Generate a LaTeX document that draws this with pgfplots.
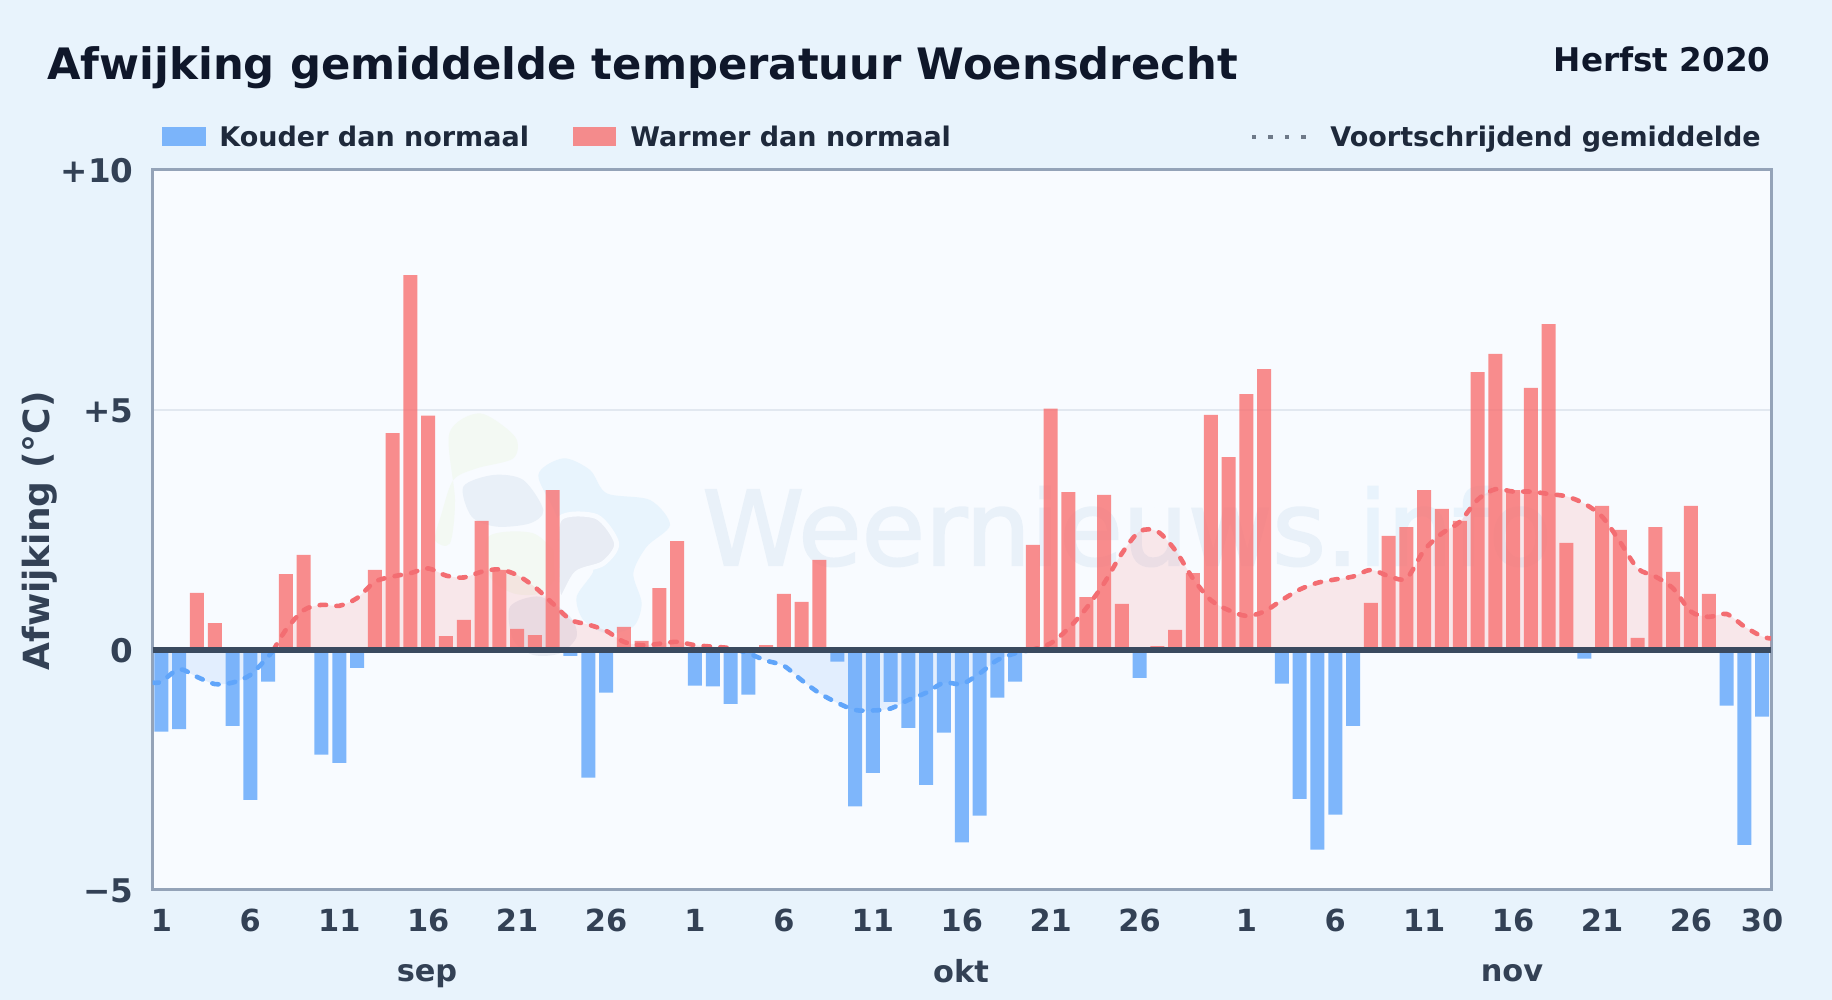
\documentclass[border=0pt]{standalone}
\usepackage{fontspec}
\setmainfont{DejaVu Sans}
\newfontfamily\markfont[FakeBold=2]{DejaVu Sans}
\usepackage{pgfplots}
\usepackage{pgfplotstable}
\pgfplotsset{compat=1.18}

\definecolor{pagebg}{HTML}{E8F3FC}
\definecolor{panel}{HTML}{F8FBFF}
\definecolor{frame}{HTML}{94A3B8}
\definecolor{gridc}{HTML}{E2E8F0}
\definecolor{zeroc}{HTML}{3A4A5F}
\definecolor{titlec}{HTML}{0F172A}
\definecolor{legendc}{HTML}{1E293B}
\definecolor{tickc}{HTML}{334155}
\definecolor{warm}{HTML}{F87171}
\definecolor{warmline}{HTML}{F36D72}
\definecolor{cold}{HTML}{60A5FA}
\definecolor{markA}{HTML}{E9F1F9}
\definecolor{markB}{HTML}{E8F3FC}
\definecolor{logoG}{HTML}{F3F9F3}
\definecolor{logoB}{HTML}{E8F4FD}
\definecolor{logoN}{HTML}{E9F0F8}
\definecolor{logoP}{HTML}{E8ECF4}

% 1 px of the reference = 0.5pt
\newcommand{\fs}[1]{\fontsize{#1}{#1}\selectfont\bfseries}

% daily deviation, index 0 = 1 sep
\pgfplotstableread{
x dev
0 -1.70
1 -1.65
2 1.19
3 0.56
4 -1.58
5 -3.12
6 -0.66
7 1.58
8 1.98
9 -2.18
10 -2.35
11 -0.37
12 1.67
13 4.52
14 7.81
15 4.88
16 0.29
17 0.63
18 2.69
19 1.67
20 0.44
21 0.31
22 3.33
23 -0.12
24 -2.66
25 -0.89
26 0.48
27 0.19
28 1.29
29 2.27
30 -0.74
31 -0.76
32 -1.12
33 -0.93
34 0.10
35 1.17
36 1.00
37 1.88
38 -0.24
39 -3.26
40 -2.56
41 -1.08
42 -1.62
43 -2.81
44 -1.72
45 -4.01
46 -3.45
47 -0.99
48 -0.66
49 2.19
50 5.03
51 3.29
52 1.10
53 3.23
54 0.96
55 -0.58
56 0.08
57 0.42
58 1.60
59 4.90
60 4.02
61 5.33
62 5.85
63 -0.70
64 -3.10
65 -4.16
66 -3.43
67 -1.58
68 0.98
69 2.38
70 2.56
71 3.33
72 2.94
73 2.69
74 5.79
75 6.17
76 3.33
77 5.46
78 6.79
79 2.23
80 -0.18
81 3.00
82 2.50
83 0.25
84 2.56
85 1.63
86 3.00
87 1.17
88 -1.16
89 -4.06
90 -1.39
}\devtable

% running mean, split where it crosses zero
\pgfplotstableread{
x ma
-0.5 -0.68
0 -0.66
1 -0.40
2 -0.56
3 -0.71
4 -0.68
5 -0.52
6 -0.14
6.3 0
}\colda
\pgfplotstableread{
x ma
6.3 0
7 0.42
8 0.83
9 0.94
10 0.92
11 1.08
12 1.42
13 1.53
14 1.60
15 1.70
16 1.55
17 1.51
18 1.63
19 1.68
20 1.56
21 1.31
22 0.97
23 0.63
24 0.53
25 0.40
26 0.17
27 0.10
28 0.13
29 0.17
30 0.10
31 0.07
32 0.04
32.4 0
}\warma
\pgfplotstableread{
x ma
32.4 0
33 -0.07
34 -0.22
35 -0.33
36 -0.63
37 -0.90
38 -1.10
39 -1.25
40 -1.26
41 -1.22
42 -1.04
43 -0.89
44 -0.68
45 -0.71
46 -0.49
47 -0.21
48 -0.07
48.9 0
}\coldb
\pgfplotstableread{
x ma
48.9 0
50 0.14
51 0.45
52 0.87
53 1.39
54 2.01
55 2.47
56 2.47
57 2.08
58 1.49
59 1.04
60 0.83
61 0.71
62 0.80
63 1.04
64 1.26
65 1.40
66 1.47
67 1.53
68 1.67
69 1.54
70 1.49
71 2.08
72 2.43
73 2.67
74 3.13
75 3.35
76 3.30
77 3.30
78 3.25
79 3.20
80 3.05
81 2.78
82 2.26
83 1.70
84 1.53
85 1.28
86 0.80
87 0.69
88 0.75
89 0.49
90 0.28
90.5 0.24
}\warmb

\pgfplotsset{
  areaw/.style={draw=none, fill=warm, fill opacity=0.14, forget plot, smooth, tension=0.5},
  areac/.style={draw=none, fill=cold, fill opacity=0.14, forget plot, smooth, tension=0.5},
  linew/.style={warmline, line width=2.3pt, line cap=round, dash pattern=on 3.2pt off 5.2pt, smooth, tension=0.5, no marks, forget plot},
  linec/.style={cold, line width=2.3pt, line cap=round, dash pattern=on 3.2pt off 5.2pt, smooth, tension=0.5, no marks, forget plot},
}

\begin{document}
\begin{tikzpicture}
  \path[use as bounding box, fill=pagebg] (0,0) rectangle (916pt,500pt);
  \fill[panel] (76.25pt,55pt) rectangle (885.5pt,415pt);

  % watermark logo
  \begin{scope}[shift={(200pt,300pt)}, x=0.16667pt, y=-0.16667pt]
    \fill[logoG] plot[smooth cycle] coordinates {(148,100)(240,40)(345,110)(340,175)(230,205)(160,240)(125,340)(105,420)(150,430)(165,300)};
    \fill[logoG] plot[smooth cycle] coordinates {(265,410)(400,400)(480,480)(470,530)(420,580)(340,580)(270,530)};
    \fill[logoB] plot[smooth cycle] coordinates {(415,225)(490,175)(570,210)(620,280)(750,300)(810,375)(740,440)(700,520)(725,610)(700,680)(620,700)(550,660)(530,590)(580,510)(500,500)(470,350)};
    \fill[logoP, draw=panel, line width=2.5pt] plot[smooth cycle] coordinates {(480,355)(590,350)(650,430)(610,490)(530,520)(480,600)(470,480)};
    \fill[logoN] plot[smooth cycle] coordinates {(190,260)(280,225)(370,240)(430,330)(390,370)(290,380)(215,350)};
    \fill[logoP] plot[smooth cycle] coordinates {(330,620)(420,590)(510,650)(530,710)(480,760)(400,765)(340,720)};
  \end{scope}
  \node[anchor=base west, inner sep=0pt, text=markA] at (351pt,217.5pt) {\fontsize{51.5pt}{51.5pt}\markfont Weernieuws.\textcolor{markB}{info}};

  \begin{axis}[
    at={(76.25pt,55pt)}, anchor=south west,
    scale only axis, width=809.25pt, height=360pt,
    xmin=-0.5, xmax=90.5, ymin=-5, ymax=10,
    xtick={0,5,10,15,20,25,30,35,40,45,50,55,61,66,71,76,81,86,90},
    xticklabels={1,6,11,16,21,26,1,6,11,16,21,26,1,6,11,16,21,26,30},
    ytick={-5,0,5,10},
    yticklabels={−5,0,+5,+10},
    major tick length=0pt,
    ymajorgrids, grid style={gridc, line width=1pt},
    axis line style={frame, line width=1.5pt},
    xticklabel style={font=\fs{15.2pt}, text=tickc, anchor=center, yshift=-15pt},
    yticklabel style={font=\fs{16.3pt}, text=tickc, anchor=east, xshift=-6pt, yshift=-0.5pt},
    clip=true,
  ]
    \addplot[areaw] table[x=x,y=ma] {\warma} \closedcycle;
    \addplot[areaw] table[x=x,y=ma] {\warmb} \closedcycle;
    \addplot[areac] table[x=x,y=ma] {\colda} \closedcycle;
    \addplot[areac] table[x=x,y=ma] {\coldb} \closedcycle;

    \addplot[ybar, bar width=7pt, bar shift=0pt, fill=warm, fill opacity=0.8, draw=none, restrict y to domain=0:20, forget plot] table[x=x,y=dev] {\devtable};
    \addplot[ybar, bar width=7pt, bar shift=0pt, fill=cold, fill opacity=0.8, draw=none, restrict y to domain=-20:0, forget plot] table[x=x,y=dev] {\devtable};

    \addplot[linew] table[x=x,y=ma] {\warma};
    \addplot[linew] table[x=x,y=ma] {\warmb};
    \addplot[linec] table[x=x,y=ma] {\colda};
    \addplot[linec] table[x=x,y=ma] {\coldb};

    \addplot[zeroc, line width=2.7pt, no marks, forget plot] coordinates {(-0.5,0) (90.5,0)};
  \end{axis}

  % titles
  \node[anchor=base west, inner sep=0pt, text=titlec] at (23.5pt,460pt) {\fs{21.65pt}Afwijking gemiddelde temperatuur Woensdrecht};
  \node[anchor=base east, inner sep=0pt, text=titlec] at (885.5pt,464.3pt) {\fs{16.3pt}Herfst 2020};

  % legend
  \fill[cold, opacity=0.8] (81pt,427pt) rectangle (103pt,436.5pt);
  \node[anchor=west, inner sep=0pt, text=legendc] at (109.5pt,430pt) {\fs{13.5pt}\strut Kouder dan normaal};
  \fill[warm, opacity=0.8] (286.5pt,427pt) rectangle (308pt,436.5pt);
  \node[anchor=west, inner sep=0pt, text=legendc] at (315pt,430pt) {\fs{13.5pt}\strut Warmer dan normaal};
  \draw[color=tickc!70!panel, line width=2pt, dash pattern=on 2.2pt off 6pt] (626pt,431.5pt) -- (653pt,431.5pt);
  \node[anchor=west, inner sep=0pt, text=legendc] at (665pt,430pt) {\fs{13.5pt}\strut Voortschrijdend gemiddelde};

  % y label and months
  \node[rotate=90, anchor=center, inner sep=0pt, text=tickc] at (20pt,234.5pt) {\fs{18pt}Afwijking (°C)};
  \node[anchor=center, inner sep=0pt, text=tickc] at (213.5pt,12.3pt) {\fs{15.2pt}\strut sep};
  \node[anchor=center, inner sep=0pt, text=tickc] at (480.5pt,12.3pt) {\fs{15.2pt}\strut okt};
  \node[anchor=center, inner sep=0pt, text=tickc] at (756pt,12.3pt) {\fs{15.2pt}\strut nov};
\end{tikzpicture}
\end{document}
